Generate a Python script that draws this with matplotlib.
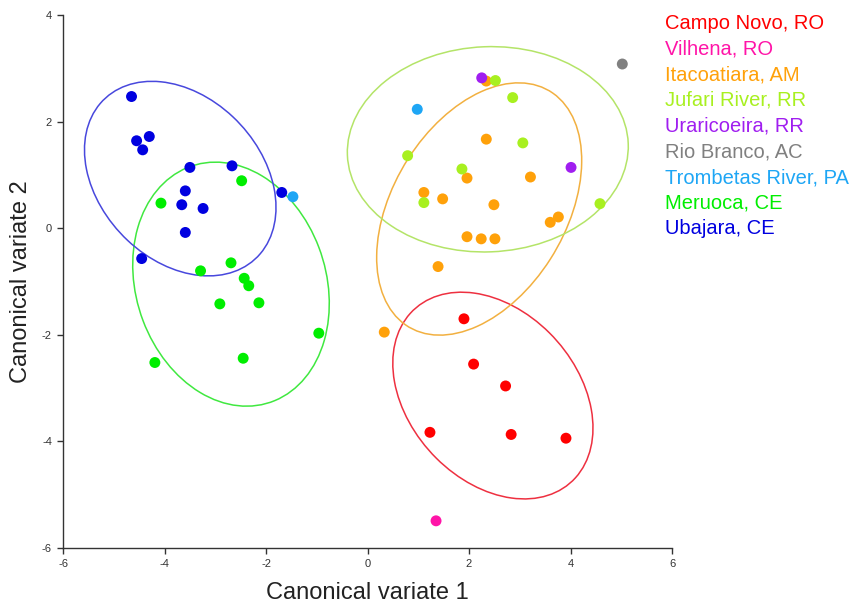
import numpy as np
import matplotlib
matplotlib.use("Agg")
import matplotlib.pyplot as plt
from matplotlib.patches import Ellipse

plt.rcParams["font.family"] = ["Liberation Sans", "DejaVu Sans"]
plt.rcParams["axes.unicode_minus"] = False

# --------------------------------------------------
# 1. Data
# --------------------------------------------------
groups = ["Campo Novo, RO", "Vilhena, RO", "Itacoatiara, AM", "Jufari River, RR",
          "Uraricoeira, RR", "Rio Branco, AC", "Trombetas River, PA",
          "Meruoca, CE", "Ubajara, CE"]
colors = ["#ff0000", "#ff14a8", "#ffa10a", "#a8f020", "#a01ef0",
          "#808080", "#1ea6f5", "#00ee00", "#0000e0"]

campo_x = [1.90, 2.09, 2.72, 1.23, 2.83, 3.91]
campo_y = [-1.70, -2.55, -2.96, -3.83, -3.87, -3.94]

vilhena_x = [1.35]
vilhena_y = [-5.49]

itaco_x = [2.34, 2.34, 1.96, 3.21, 1.11, 1.48, 2.49, 3.76, 3.60, 1.96, 2.24, 2.51, 1.39, 0.33]
itaco_y = [2.76, 1.67, 0.94, 0.96, 0.67, 0.55, 0.44, 0.21, 0.11, -0.16, -0.20, -0.20, -0.72, -1.95]

jufari_x = [2.52, 2.86, 3.06, 0.79, 1.86, 1.11, 4.58]
jufari_y = [2.77, 2.45, 1.60, 1.36, 1.11, 0.48, 0.46]

urari_x = [2.25, 4.01]
urari_y = [2.82, 1.14]

rio_x = [5.02]
rio_y = [3.08]

tromb_x = [0.98, -1.47]
tromb_y = [2.23, 0.59]

meru_x = [-4.07, -2.48, -3.29, -2.69, -2.43, -2.34, -2.91, -2.14, -0.96, -2.45, -4.19]
meru_y = [0.47, 0.89, -0.80, -0.65, -0.94, -1.08, -1.42, -1.40, -1.97, -2.44, -2.52]

ubaj_x = [-4.65, -4.55, -4.30, -4.43, -3.50, -2.67, -3.59, -3.66, -3.24, -3.59, -4.45, -1.69]
ubaj_y = [2.47, 1.64, 1.72, 1.47, 1.14, 1.17, 0.70, 0.44, 0.37, -0.08, -0.57, 0.67]

xs = [campo_x, vilhena_x, itaco_x, jufari_x, urari_x, rio_x, tromb_x, meru_x, ubaj_x]
ys = [campo_y, vilhena_y, itaco_y, jufari_y, urari_y, rio_y, tromb_y, meru_y, ubaj_y]

# ellipses: centre and shape matrix [[a, b], [b, c]]
ell_cx = [2.47, 2.20, 2.37, -2.69, -3.69]
ell_cy = [-3.14, 0.36, 1.48, -1.05, 0.93]
ell_a = [3.89, 4.08, 7.66, 3.75, 3.56]
ell_b = [-1.20, 1.84, 0.15, -0.70, -1.02]
ell_c = [3.76, 5.60, 3.71, 5.24, 3.33]
ell_colors = ["#ee3040", "#f2b040", "#b4e468", "#40e840", "#4848dd"]

# --------------------------------------------------
# 2. Plot
# --------------------------------------------------
fig = plt.figure(figsize=(8.56, 6.06), dpi=100)
ax = fig.add_axes([0.0736, 0.0957, 0.7115, 0.8796])

for k in range(len(ell_cx)):
    m = np.array([[ell_a[k], ell_b[k]], [ell_b[k], ell_c[k]]])
    vals, vecs = np.linalg.eigh(m)
    ang = np.degrees(np.arctan2(vecs[1, 1], vecs[0, 1]))
    e = Ellipse((ell_cx[k], ell_cy[k]), 2 * np.sqrt(vals[1]), 2 * np.sqrt(vals[0]),
                angle=ang, fill=False, edgecolor=ell_colors[k], lw=1.1, zorder=2)
    ax.add_patch(e)

for i in range(len(groups)):
    ax.scatter(xs[i], ys[i], s=62, color=colors[i], edgecolors="none", zorder=3)

# legend as coloured text
for i, g in enumerate(groups):
    fig.text(665 / 856, 1 - (23.3 + i * 25.7) / 606, g, color=colors[i],
             fontsize=14.5, va="center", ha="left")

ax.set_xlim(-6, 6)
ax.set_ylim(-6, 4)
ax.set_xticks(range(-6, 7, 2))
ax.set_yticks(range(-6, 5, 2))
ax.spines["top"].set_visible(False)
ax.spines["right"].set_visible(False)
for s in ["left", "bottom"]:
    ax.spines[s].set_color("#333333")
    ax.spines[s].set_linewidth(1.0)
ax.tick_params(direction="out", length=4, width=1, colors="#333333",
               labelsize=8, pad=4)

ax.set_xlabel("Canonical variate 1", fontsize=17, color="#222222", labelpad=9)
ax.set_ylabel("Canonical variate 2", fontsize=17, color="#222222", labelpad=7)

plt.savefig("out.png", dpi=100)
